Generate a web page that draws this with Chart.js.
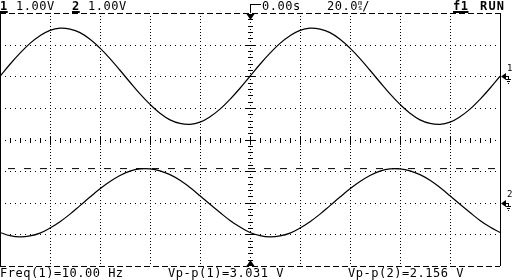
<!DOCTYPE html>
<html>
<head>
<meta charset="utf-8">
<script src="https://cdn.jsdelivr.net/npm/chart.js@4.4.0/dist/chart.umd.min.js"></script>
<style>
  html, body { margin:0; padding:0; background:#fff; }
  #wrap { position:relative; width:512px; height:280px; overflow:hidden; }
  #scope { position:absolute; left:0; top:0; }
  .t { position:absolute; font-family:"DejaVu Sans Mono", monospace; font-size:12px; line-height:12px;
       letter-spacing:0.5px; color:#000; white-space:pre; }
  .b { font-weight:bold; }
  .u { text-decoration:underline; text-decoration-thickness:2px; text-underline-offset:1px; }
  .ms { display:inline-flex; flex-direction:column; font-size:7px; line-height:5px; letter-spacing:0;
        vertical-align:top; margin-top:1px; }
  .mk { font-size:9px; line-height:9px; letter-spacing:0; }
</style>
</head>
<body>
<div id="wrap">
  <canvas id="scope" width="512" height="280"></canvas>

  <div class="t b u" style="left:0;top:0">1</div>
  <div class="t" style="left:16px;top:0">1.00V</div>
  <div class="t b u" style="left:72px;top:0">2</div>
  <div class="t" style="left:88px;top:0">1.00V</div>
  <div class="t" style="left:262px;top:0">0.00s</div>
  <div class="t" style="left:327px;top:0">20.0<span class="ms"><span>m</span><span>s</span></span>/</div>
  <div class="t b u" style="left:453px;top:0">f1</div>
  <div class="t b" style="left:480px;top:0;letter-spacing:1.2px">RUN</div>

  <div class="t mk" style="left:507px;top:64px">1</div>
  <div class="t mk" style="left:507px;top:190px">2</div>

  <div class="t" style="left:0;top:267px">Freq(1)=10.00 Hz</div>
  <div class="t" style="left:168px;top:267px">Vp-p(1)=3.031 V</div>
  <div class="t" style="left:348px;top:267px">Vp-p(2)=2.156 V</div>
</div>

<script>
// time axis: trigger at centre, 20 ms/div, 10 divisions
const msPerDiv = 20;
const timeMs = [-100, -96, -92, -88, -84, -80, -76, -72, -68, -64, -60, -56, -52, -48, -44, -40, -36,
  -32, -28, -24, -20, -16, -12, -8, -4, 0, 4, 8, 12, 16, 20, 24, 28, 32, 36, 40, 44, 48, 52, 56,
  60, 64, 68, 72, 76, 80, 84, 88, 92, 96, 100];

// channel 1 trace, volts relative to its ground marker
const ch1Volts = [0, 0.38, 0.73, 1.04, 1.28, 1.45, 1.52, 1.49, 1.38, 1.17, 0.89, 0.56, 0.19,
  -0.19, -0.56, -0.89, -1.17, -1.38, -1.49, -1.52, -1.45, -1.28, -1.04, -0.73, -0.38,
  0, 0.38, 0.73, 1.04, 1.28, 1.45, 1.52, 1.49, 1.38, 1.17, 0.89, 0.56, 0.19,
  -0.19, -0.56, -0.89, -1.17, -1.38, -1.49, -1.52, -1.45, -1.28, -1.04, -0.73, -0.38, 0];

// channel 2 trace, volts relative to its ground marker
const ch2Volts = [-0.94, -1.04, -1.08, -1.05, -0.96, -0.80, -0.60, -0.36, -0.09, 0.18, 0.44, 0.67,
  0.86, 1.00, 1.07, 1.07, 1.01, 0.89, 0.71, 0.48, 0.22, -0.05, -0.31, -0.56, -0.77,
  -0.94, -1.04, -1.08, -1.05, -0.96, -0.80, -0.60, -0.36, -0.09, 0.18, 0.44, 0.67,
  0.86, 1.00, 1.07, 1.07, 1.01, 0.89, 0.71, 0.48, 0.22, -0.05, -0.31, -0.56, -0.77, -0.94];

const ch1VoltsPerDiv = 1.0, ch2VoltsPerDiv = 1.0;
const ch1PositionDiv = 2, ch2PositionDiv = -2;
const ch2MarkerVolts = 1.08; // dashed level line

function toDiv(volts, vpd, pos) {
  return volts.map((v, i) => ({ x: timeMs[i], y: v / vpd + pos }));
}

const scopeDecor = {
  id: 'scopeDecor',
  beforeDatasetsDraw(chart) {
    const { ctx, chartArea: a, scales: { x, y } } = chart;
    const dot = (px, py, w, h) => ctx.fillRect(Math.round(px), Math.round(py), w || 1, h || 1);
    ctx.save();
    ctx.fillStyle = '#000';
    // vertical graticule lines (dots every 0.1 div)
    for (let d = -4; d <= 4; d++) {
      const px = x.getPixelForValue(d * msPerDiv);
      for (let j = 1; j < 80; j++) dot(px, y.getPixelForValue(4 - j * 0.1));
    }
    // horizontal graticule lines
    for (let d = -3; d <= 3; d++) {
      const py = y.getPixelForValue(d);
      for (let j = 1; j < 100; j++) dot(x.getPixelForValue(-100 + j * 2), py);
    }
    // centre axes with minor ticks
    const cx = Math.round(x.getPixelForValue(0)), cy = Math.round(y.getPixelForValue(0));
    for (let j = 1; j < 40; j++) {
      const py = y.getPixelForValue(4 - j * 0.2);
      if (j % 5 === 0) dot(cx - 4, py, 9, 1); else dot(cx - 2, py, 5, 1);
    }
    for (let j = 1; j < 50; j++) {
      const px = x.getPixelForValue(-100 + j * 4);
      if (j % 5 === 0) dot(px, cy - 4, 1, 9); else dot(px, cy - 2, 1, 5);
    }
    // frame
    const L = Math.round(a.left), R = Math.round(a.right), T = Math.round(a.top), B = Math.round(a.bottom);
    ctx.fillRect(L, T, 1, B - T);
    ctx.fillRect(R, T, 1, B - T);
    for (let xx = L; xx < R; xx += 9) {
      ctx.fillRect(xx, T, Math.min(6, R - xx), 1);
      ctx.fillRect(xx, B, Math.min(6, R - xx), 1);
    }
    // trigger position markers
    ctx.fillRect(cx, 4, 1, T - 4);
    ctx.fillRect(cx, 4, 11, 1);
    ctx.beginPath();
    ctx.moveTo(cx - 3.5, T + 1); ctx.lineTo(cx + 4.5, T + 1); ctx.lineTo(cx + 0.5, T + 7); ctx.closePath();
    ctx.fill();
    ctx.beginPath();
    ctx.moveTo(cx - 3.5, B); ctx.lineTo(cx + 4.5, B); ctx.lineTo(cx + 0.5, B - 6); ctx.closePath();
    ctx.fill();
    // channel ground markers on the right
    [ch1PositionDiv, ch2PositionDiv].forEach(p => {
      const py = Math.round(y.getPixelForValue(p));
      ctx.beginPath();
      ctx.moveTo(R + 1, py + 0.5); ctx.lineTo(R + 6, py - 3); ctx.lineTo(R + 6, py + 4); ctx.closePath();
      ctx.fill();
      ctx.fillRect(R + 6, py, 3, 1);
      ctx.fillRect(R + 8, py, 1, 3);
      ctx.fillRect(R + 6, py + 3, 5, 1);
      ctx.fillRect(R + 7, py + 5, 3, 1);
      ctx.fillRect(R + 8, py + 7, 1, 1);
    });
    ctx.restore();
  }
};

new Chart(document.getElementById('scope'), {
  type: 'line',
  data: {
    datasets: [
      { label: 'CH1', data: toDiv(ch1Volts, ch1VoltsPerDiv, ch1PositionDiv),
        borderColor: '#000', borderWidth: 1.2, pointRadius: 0, tension: 0.4, fill: false },
      { label: 'CH2', data: toDiv(ch2Volts, ch2VoltsPerDiv, ch2PositionDiv),
        borderColor: '#000', borderWidth: 1.2, pointRadius: 0, tension: 0.4, fill: false },
      { label: 'level', data: [{ x: -100, y: ch2MarkerVolts / ch2VoltsPerDiv + ch2PositionDiv },
                               { x: 100, y: ch2MarkerVolts / ch2VoltsPerDiv + ch2PositionDiv }],
        borderColor: '#000', borderWidth: 1, pointRadius: 0, borderDash: [7, 9], borderDashOffset: 8 }
    ]
  },
  options: {
    responsive: false,
    animation: false,
    devicePixelRatio: 1,
    layout: { padding: { left: 0, right: 12, top: 13, bottom: 14 } },
    plugins: { legend: { display: false }, tooltip: { enabled: false } },
    scales: {
      x: { type: 'linear', min: -100, max: 100, display: false },
      y: { type: 'linear', min: -4, max: 4, display: false }
    }
  },
  plugins: [scopeDecor]
});
</script>
</body>
</html>
